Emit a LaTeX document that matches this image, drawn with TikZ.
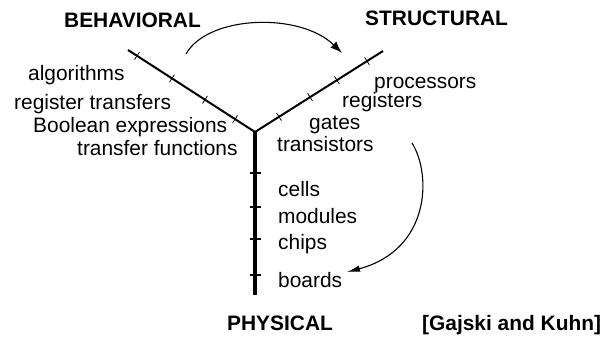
\documentclass[tikz,border=0pt]{standalone}
\usepackage{fontspec}
\setmainfont{Liberation Sans}
\usetikzlibrary{arrows.meta,decorations.markings}
\newcommand\tickD{\draw[line width=0.8pt] (0,-4.5pt) -- (0,4.5pt);}
\newcommand\tickP{\draw[line width=2pt] (0,-5.5pt) -- (0,5.5pt);}
\begin{document}
\begin{tikzpicture}[x=1pt,y=-1pt,
  lbl/.style={anchor=base west, inner sep=0pt, font=\fontsize{20.9}{25}\selectfont},
  ttl/.style={anchor=base west, inner sep=0pt, font=\fontsize{20.9}{25}\selectfont\bfseries},
  axisline/.style={line width=2pt},
  paxis/.style={line width=3.2pt},
  curvearrow/.style={line width=1.1pt, -{Latex[length=12pt,width=8.5pt]}},
  ]
\useasboundingbox (0,0) rectangle (605,339);
\coordinate (O) at (255,132);
\coordinate (B) at (128,50);
\coordinate (S) at (383,51);
\coordinate (P) at (255,295);

\draw[axisline, postaction=decorate, decoration={markings,
  mark=at position 0.157 with {\tickD},
  mark=at position 0.394 with {\tickD},
  mark=at position 0.654 with {\tickD},
  mark=at position 0.929 with {\tickD}}] (O) -- (B);
\draw[axisline, postaction=decorate, decoration={markings,
  mark=at position 0.1875 with {\tickD},
  mark=at position 0.43 with {\tickD},
  mark=at position 0.64 with {\tickD},
  mark=at position 0.875 with {\tickD}}] (O) -- (S);
\draw[paxis, postaction=decorate, decoration={markings,
  mark=at position 0.2515 with {\tickP},
  mark=at position 0.46 with {\tickP},
  mark=at position 0.656 with {\tickP},
  mark=at position 0.877 with {\tickP}}] (O) -- (P);

\node[ttl] (beh) at (64,28) {BEHAVIORAL};
\node[ttl] (str) at (365,26) {STRUCTURAL};
\node[ttl] (phy) at (227,330) {PHYSICAL};
\node[ttl] (ref) at (422,330) {[Gajski and Kuhn]};

\node[lbl] (alg) at (28,80.7) {algorithms};
\node[lbl] (rt) at (14,110) {register transfers};
\node[lbl] (be) at (33,133) {Boolean expressions};
\node[lbl] (tf) at (77,156) {transfer functions};

\node[lbl] (proc) at (374,89) {processors};
\node[lbl] (reg) at (342,108) {registers};
\node[lbl] (gat) at (309,130) {gates};
\node[lbl] (tra) at (277,152) {transistors};

\node[lbl] (cel) at (278,196.7) {cells};
\node[lbl] (mod) at (278,223) {modules};
\node[lbl] (chi) at (278,250) {chips};
\node[lbl] (boa) at (278,287) {boards};

\coordinate (a1s) at (186,54);
\coordinate (a1e) at (342,53);
\coordinate (a2s) at (412,143);
\coordinate (a2e) at (347,272);
\draw[curvearrow] (a1s) .. controls (208,15) and (300,12) .. (a1e);
\draw[curvearrow, -{Latex[length=13pt,width=6.5pt]}] (a2s) .. controls (432,175) and (430,250) .. (a2e);
\end{tikzpicture}
\end{document}
